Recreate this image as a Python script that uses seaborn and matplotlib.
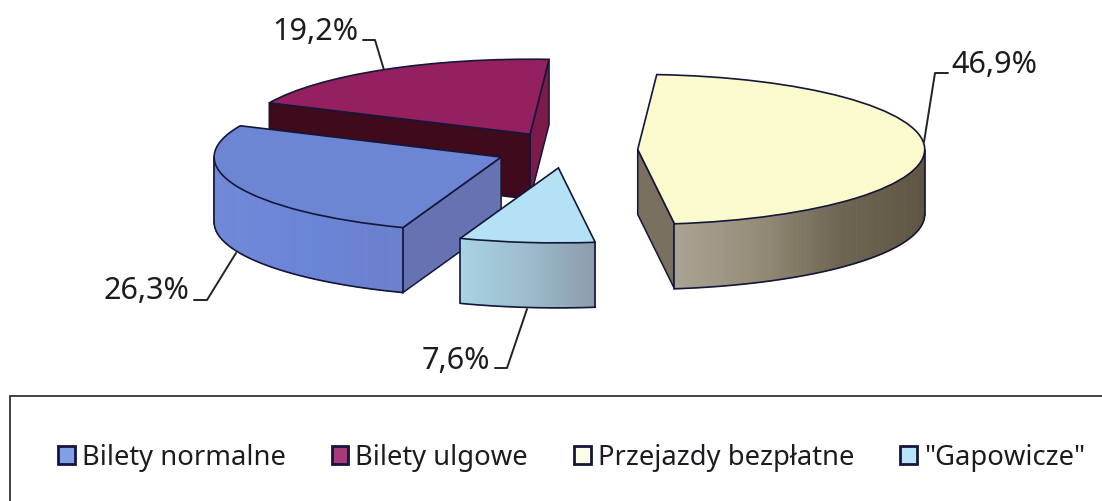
import numpy as np
import matplotlib
matplotlib.use("Agg")
import matplotlib.pyplot as plt
import seaborn as sns
from matplotlib.colors import LinearSegmentedColormap, to_rgb
from matplotlib.patches import Patch

categories = ["Bilety normalne", "Bilety ulgowe", "Przejazdy bezpłatne", '"Gapowicze"']
shares = [26.3, 19.2, 46.9, 7.6]
share_labels = ["26,3%", "19,2%", "46,9%", "7,6%"]

# look of the slices
explode = [0.245, 0.245, 0.25, 0.24]
top_colors = sns.color_palette(["#6c86d4", "#95205f", "#fbfacd", "#b4e1f3"])
legend_colors = sns.color_palette(["#7f9fe6", "#a83a7c", "#fdfde6", "#b8e4fa"])
cut_colors = ["#6672b2", "#7c1a4c", "#797060", "#8fa5b5"]
dark_cut = ["#6672b2", "#3e0a1c", "#797060", "#8fa5b5"]
arc_colors = [["#7289d8", "#6a84d6", "#6a80cc"],
              ["#3e0a1c", "#3e0a1c"],
              ["#aaa494", "#958c78", "#6e6552", "#5e5542"],
              ["#a9d3e4", "#9dbccd", "#8b9dad"]]
edge_color = "#14163a"
draw_order = [1, 2, 0, 3]

# pixel layout of the scanned picture
W, H = 1102, 501
CX, CY, RX, RY = 566, 150, 287, 75
DEPTH = 65 / RY


def px(x, y):
    return (x - CX) / RX, (CY - y) / RY


sns.set_theme(style="white")
plt.rcParams["font.family"] = ["Noto Sans", "DejaVu Sans"]

fig = plt.figure(figsize=(W / 100, H / 100), dpi=100, facecolor="white")
ax = fig.add_axes([0, 0, 1, 1])

wedges, _ = ax.pie(shares, colors=top_colors, explode=explode, startangle=250,
                   counterclock=False, radius=1,
                   wedgeprops=dict(edgecolor=edge_color, linewidth=1.2))
ax.set_aspect("auto")
ax.set_xlim(-CX / RX, (W - CX) / RX)
ax.set_ylim((CY - H) / RY, CY / RY)
ax.axis("off")

for order, i in enumerate(draw_order):
    w = wedges[i]
    z = 10 + order * 10
    w.set_zorder(z + 5)
    cx, cy = w.center

    # the two cut faces, only where they look at the viewer
    for theta, normal, col in [(w.theta1, w.theta1 - 90, cut_colors[i]),
                               (w.theta2, w.theta2 + 90, dark_cut[i])]:
        if np.sin(np.radians(normal)) >= 0:
            continue
        ex = cx + np.cos(np.radians(theta))
        ey = cy + np.sin(np.radians(theta))
        ax.fill([cx, ex, ex, cx], [cy, ey, ey - DEPTH, cy - DEPTH],
                facecolor=col, edgecolor=edge_color, linewidth=1.1, zorder=z)

    # the rim, cut in thin strips for the shading
    th = np.radians(np.linspace(w.theta1, w.theta2, 161))
    xs = cx + np.cos(th)
    ys = cy + np.sin(th)
    front = np.sin(th) < 0
    if front.any():
        cmap = LinearSegmentedColormap.from_list("rim", [to_rgb(c) for c in arc_colors[i]])
        x0, x1 = xs[front].min(), xs[front].max()
        for k in range(len(th) - 1):
            if not (front[k] and front[k + 1]):
                continue
            col = cmap(((xs[k] + xs[k + 1]) / 2 - x0) / (x1 - x0))
            ax.fill([xs[k], xs[k + 1], xs[k + 1], xs[k]],
                    [ys[k], ys[k + 1], ys[k + 1] - DEPTH, ys[k] - DEPTH],
                    facecolor=col, edgecolor=col, linewidth=0.6, zorder=z + 1)
        ax.plot(xs[front], ys[front] - DEPTH, color=edge_color, lw=1.2, zorder=z + 2)
        for j in (np.argmax(front), len(front) - 1 - np.argmax(front[::-1])):
            ax.plot([xs[j], xs[j]], [ys[j], ys[j] - DEPTH], color=edge_color, lw=1.2, zorder=z + 2)

# labels with their leader lines
label_right = [(189, 291), (358, 32), (1037, 65), (490, 361)]
leaders = [[(194, 300), (207, 300), (236, 253)],
           [(363, 40), (375, 40), (384, 70)],
           [(948, 73), (935, 73), (924, 142)],
           [(495, 368), (507, 368), (527, 309)]]
for i, text in enumerate(share_labels):
    tx, ty = px(*label_right[i])
    ax.text(tx, ty, text, ha="right", va="center", fontsize=22, color="#1c1c20", zorder=80)
    line = np.array([px(*p) for p in leaders[i]])
    ax.plot(line[:, 0], line[:, 1], color="#222222", lw=1.4, zorder=5)

handles = [Patch(facecolor=c, edgecolor="#14163a", linewidth=2.0) for c in legend_colors]
leg = fig.legend(handles, categories, loc="upper left",
                 bbox_to_anchor=(10 / W, 1 - 396 / H), ncol=4, fontsize=19.7,
                 frameon=True, fancybox=False, framealpha=1, edgecolor="#333333",
                 borderpad=1.75, borderaxespad=0, columnspacing=1.68,
                 handlelength=0.62, handleheight=0.62, handletextpad=0.25,
                 labelcolor="#1c1c20")
leg.get_frame().set_linewidth(1.3)

fig.savefig("out.png", dpi=100)
